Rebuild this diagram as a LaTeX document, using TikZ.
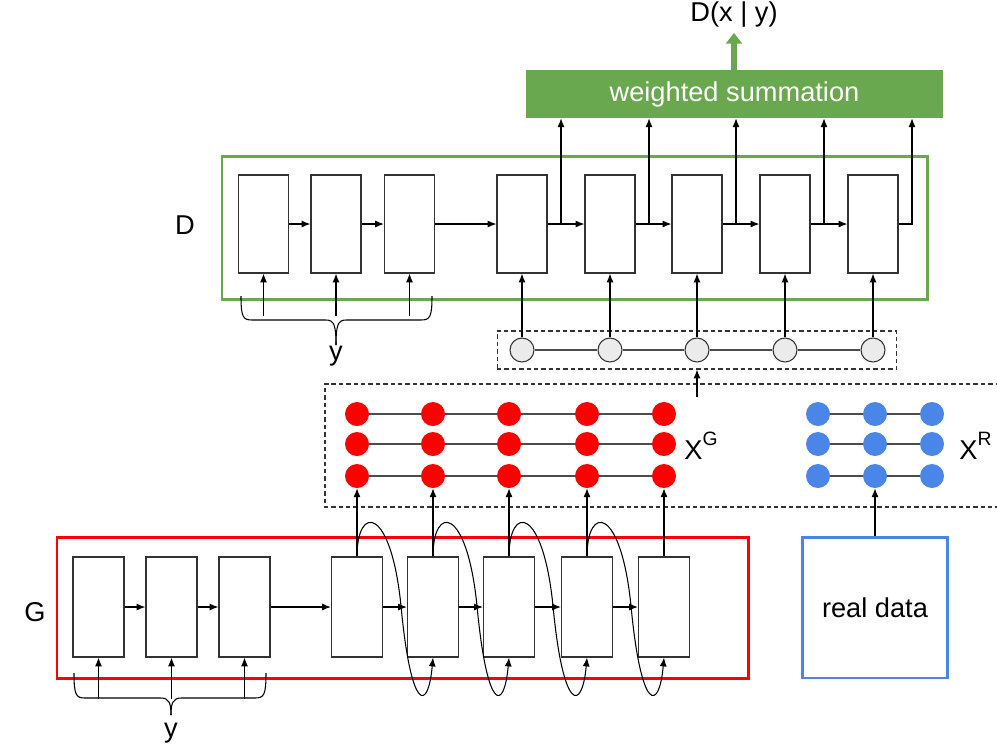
\documentclass[tikz,border=0pt]{standalone}
\usepackage{fontspec}
\setmainfont{Liberation Sans}
\usetikzlibrary{arrows.meta,calc}
\definecolor{ggreen}{HTML}{6AA84F}
\definecolor{gred}{HTML}{FF0000}
\definecolor{gblue}{HTML}{4A86E8}
\begin{document}
\begin{tikzpicture}[x=0.02cm,y=-0.02cm,
  cell/.style={draw=black!80, line width=0.7pt, fill=white, minimum width=1cm, minimum height=1.96cm, inner sep=0pt},
  gcell/.style={cell, minimum width=1.02cm, minimum height=2cm},
  arr/.style={-{Latex[length=5pt,width=4pt]}, line width=0.6pt},
  lbl/.style={font=\fontsize{15.5}{18}\selectfont, inner sep=0pt},
  gcirc/.style={circle, draw=black!80, fill=black!8, minimum size=0.48cm, inner sep=0pt, line width=0.6pt},
  rdot/.style={circle, fill=gred, minimum size=0.48cm, inner sep=0pt},
  bdot/.style={circle, fill=gblue, minimum size=0.48cm, inner sep=0pt},
  link/.style={draw=black!70, line width=0.6pt},
  dsh/.style={draw=black!80, line width=0.6pt, dash pattern=on 2.5pt off 1.7pt}
]
\useasboundingbox (0,0) rectangle (997,748);

% ---------- top: summation ----------
\node[fill=ggreen, minimum width=8.34cm, minimum height=0.96cm, inner sep=0pt, text=white, lbl] (sum) at (734.5,94) {weighted summation};
\node[lbl] (dxy) at (734,15) {D(x | y)};
\coordinate (sout) at (734,33);
\draw[ggreen, line width=3pt, -{Triangle[length=6pt,width=9pt]}] (sum.north -| sout) -- (sout);

% ---------- D ----------
\draw[ggreen, line width=1.7pt] (222,156) rectangle (927,299);
\node[lbl] (Dlab) at (185,225) {D};
\foreach \n/\x in {d1/263.5,d2/336,d3/409.5,d4/522,d5/610,d6/697,d7/785,d8/873}
  \node[cell] (\n) at (\x,224) {};
\draw[arr] (d1.east) -- (d2.west);
\draw[arr] (d2.east) -- (d3.west);
\draw[arr] (d3.east) -- (d4.west);
\foreach \a/\b/\t in {d4/d5/561,d5/d6/649,d6/d7/736,d7/d8/824}{
  \draw[arr] (\a.east) -- (\b.west);
  \coordinate (tap\a) at (\t,224);
  \draw[arr] (tap\a) -- (tap\a |- sum.south);
}
\coordinate (tapd8) at (912,224);
\draw[arr] (d8.east) -- (tapd8) -- (tapd8 |- sum.south);

% y inputs to D
\foreach \n in {d1,d2,d3}{
  \coordinate (y\n) at ($(\n.south)+(0,42)$);
  \draw[arr] (y\n) -- (\n.south);
}
\draw[line width=0.6pt] (241,296) .. controls (241,317) and (243,320) .. (252,320) -- (326,320) .. controls (334,320) and (336,325) .. (336,345);
\draw[line width=0.6pt] (432,296) .. controls (432,317) and (430,320) .. (421,320) -- (346,320) .. controls (338,320) and (336,325) .. (336,345);
\node[lbl] (yD) at (336,356) {y};

% circle row
\node[dsh, minimum width=8cm, minimum height=0.76cm, inner sep=0pt] (cbox) at (697,350) {};
\foreach \n/\x in {c1/522,c2/610,c3/697,c4/785,c5/873}
  \node[gcirc] (\n) at (\x,350) {};
\foreach \a/\b in {c1/c2,c2/c3,c3/c4,c4/c5}
  \draw[link] (\a.east) -- (\b.west);
\foreach \c/\d in {c1/d4,c2/d5,c3/d6,c4/d7,c5/d8}
  \draw[arr] (\c.north) -- (\d.south);

% ---------- samples ----------
\draw[dsh] (1000,384) -- (325,384) -- (325,507) -- (1000,507);
\coordinate (xin) at (697,397);
\draw[arr] (xin) -- (xin |- cbox.south);

\foreach \r/\y in {1/414,2/444,3/476}{
  \foreach \c/\x in {1/357,2/433,3/509,4/587,5/664}
    \node[rdot] (r\r\c) at (\x,\y) {};
  \foreach \a/\b in {1/2,2/3,3/4,4/5}
    \draw[link] (r\r\a.east) -- (r\r\b.west);
  \foreach \c/\x in {1/818,2/875,3/932}
    \node[bdot] (b\r\c) at (\x,\y) {};
  \foreach \a/\b in {1/2,2/3}
    \draw[link] (b\r\a.east) -- (b\r\b.west);
}
\node[lbl, anchor=west] (XG) at (684,446) {X\raisebox{1.0ex}{\fontsize{11}{11}\selectfont G}};
\node[lbl, anchor=west] (XR) at (959,446) {X\raisebox{1.0ex}{\fontsize{11}{11}\selectfont R}};

% ---------- G ----------
\draw[gred, line width=1.7pt] (57,537) rectangle (748,678);
\node[lbl] (Glab) at (35,612) {G};
\foreach \n/\x in {g1/98.5,g2/171.5,g3/244.5,g4/357,g5/433,g6/509,g7/587,g8/664}
  \node[gcell] (\n) at (\x,607) {};
\foreach \a/\b in {g1/g2,g2/g3,g3/g4,g4/g5,g5/g6,g6/g7,g7/g8}
  \draw[arr] (\a.east) -- (\b.west);
\foreach \g/\c in {g4/1,g5/2,g6/3,g7/4,g8/5}
  \draw[arr] (\g.north) -- (r3\c.south);
\foreach \a/\b in {g4/g5,g5/g6,g6/g7,g7/g8}
  \draw[arr] (\a.north) .. controls +(0,-52) and +(-10,-102) .. ($(\a.east)+(18,0)$) .. controls +(10,105) and +(-5,55) .. (\b.south);

% y inputs to G
\foreach \n in {g1,g2,g3}{
  \coordinate (y\n) at ($(\n.south)+(0,41)$);
  \draw[arr] (y\n) -- (\n.south);
}
\draw[line width=0.6pt] (74,673) .. controls (74,695) and (76,698) .. (85,698) -- (161,698) .. controls (169,698) and (171,703) .. (171,715);
\draw[line width=0.6pt] (266,673) .. controls (266,695) and (264,698) .. (255,698) -- (181,698) .. controls (173,698) and (171,703) .. (171,715);
\node[lbl] (yG) at (171,733) {y};

% real data
\node[draw=gblue, line width=1.7pt, minimum width=2.9cm, minimum height=2.82cm, inner sep=0pt, lbl] (real) at (875,607.5) {real data};
\draw[arr] (real.north) -- (b32.south);
\end{tikzpicture}
\end{document}
